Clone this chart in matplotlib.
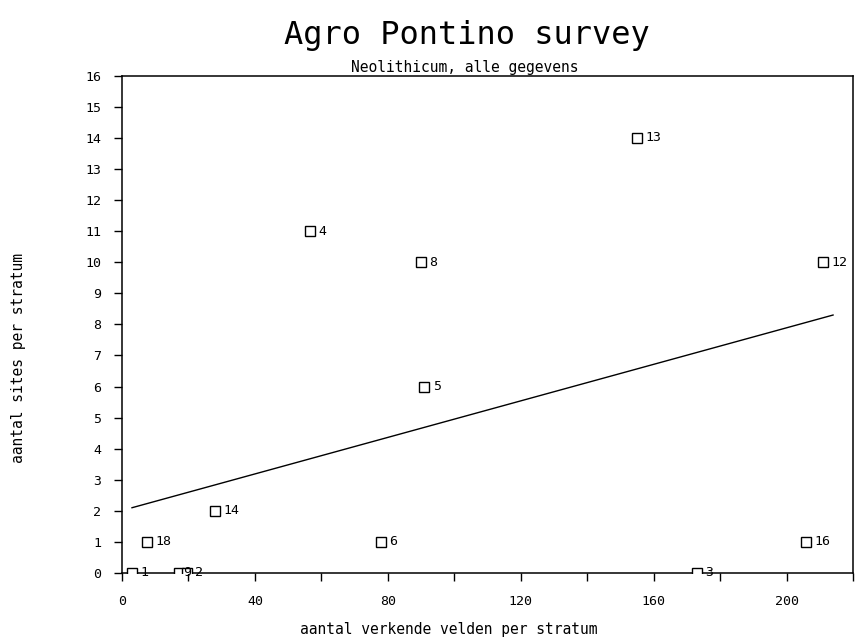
import matplotlib
matplotlib.use('Agg')
import matplotlib.pyplot as plt
import numpy as np

# aantal verkende velden per stratum / aantal sites per stratum
velden = [3, 17, 19.5, 173, 56.5, 91, 78, 90, 211, 155, 28, 7.5, 206]
sites = [0, 0, 0, 0, 11, 6, 1, 10, 10, 14, 2, 1, 1]
labels = ['1', '9', '2', '3', '4', '5', '6', '8', '12', '13', '14', '18', '16']

# regressielijn
lijn_x = [3, 214]
lijn_y = [2.1, 8.3]

xticks_major = [0, 40, 80, 120, 160, 200]
mono = 'DejaVu Sans Mono'

fig = plt.figure(figsize=(8.63, 6.4), dpi=100)
ax = fig.add_axes([0.1414, 0.1047, 0.847, 0.777])

ax.plot(velden, sites, linestyle='none', marker='s', markersize=7,
        markerfacecolor='white', markeredgecolor='black', markeredgewidth=1, zorder=3)
for x, y, t in zip(velden, sites, labels):
    off = 3 if t == '9' else 6
    ax.annotate(t, (x, y), xytext=(off, 0), textcoords='offset points',
                va='center', ha='left', fontsize=9.5, family=mono, zorder=4)

ax.plot(lijn_x, lijn_y, color='black', linewidth=1)

ax.set_xlim(0, 220)
ax.set_ylim(0, 16)
ax.set_xticks(np.arange(0, 221, 20))
ax.set_xticklabels([str(v) if v in xticks_major else '' for v in range(0, 221, 20)])
ax.set_yticks(range(0, 17))
ax.tick_params(direction='out', length=6, width=1, labelsize=9.5)
ax.tick_params(axis='x', pad=10)
ax.tick_params(axis='y', pad=9)
for lab in ax.get_xticklabels() + ax.get_yticklabels():
    lab.set_family(mono)
for s in ax.spines.values():
    s.set_linewidth(1.1)

fig.text(0.541, 0.945, 'Agro Pontino survey', ha='center', va='center',
         fontsize=23, family=mono)
fig.text(0.539, 0.894, 'Neolithicum, alle gegevens', ha='center', va='center',
         fontsize=10.5, family=mono)
fig.text(0.52, 0.016, 'aantal verkende velden per stratum', ha='center', va='center',
         fontsize=10.5, family=mono)
fig.text(0.022, 0.44, 'aantal sites per stratum', ha='center', va='center',
         rotation=90, fontsize=10.5, family=mono)

fig.savefig('out.png', dpi=100)
